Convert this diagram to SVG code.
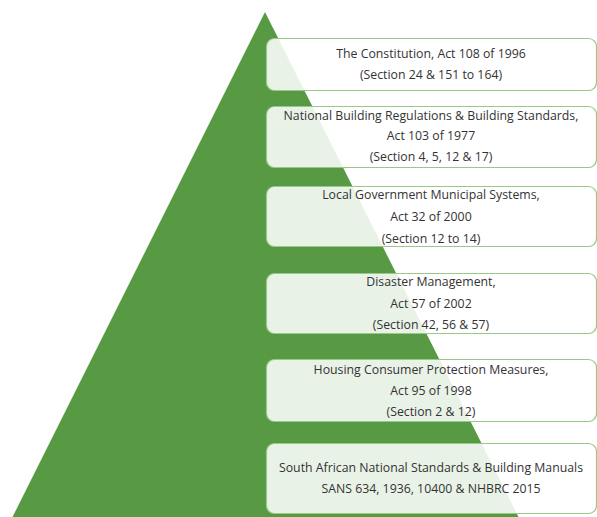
<svg xmlns="http://www.w3.org/2000/svg" width="597" height="517" viewBox="0 0 597 517">
  <style>
    .tier rect { fill: #ffffff; fill-opacity: 0.87; stroke: #9ac987; stroke-width: 1.2; }
    .tier text { font-family: "Open Sans", "Liberation Sans", sans-serif; font-size: 12.3px; fill: #333333; text-anchor: middle; }
  </style>
  <rect width="597" height="517" fill="#ffffff"/>
  <!-- pyramid backdrop -->
  <polygon id="pyramid" points="265,12 519,518 12,518" fill="#589a44"/>
  <g id="connectors"/>
  <g id="tier1" class="tier">
    <rect x="266.5" y="38.5" width="330" height="52" rx="8"/>
    <text x="431" y="58">The Constitution, Act 108 of 1996</text>
    <text x="431" y="79">(Section 24 &amp; 151 to 164)</text>
  </g>
  <g id="tier2" class="tier">
    <rect x="266.5" y="106.5" width="330" height="61" rx="8"/>
    <text x="431" y="119.5">National Building Regulations &amp; Building Standards,</text>
    <text x="431" y="140">Act 103 of 1977</text>
    <text x="431" y="161">(Section 4, 5, 12 &amp; 17)</text>
  </g>
  <g id="tier3" class="tier">
    <rect x="266.5" y="186.5" width="330" height="60" rx="8"/>
    <text x="431" y="198.5">Local Government Municipal Systems,</text>
    <text x="431" y="221">Act 32 of 2000</text>
    <text x="431" y="242.5">(Section 12 to 14)</text>
  </g>
  <g id="tier4" class="tier">
    <rect x="266.5" y="273.5" width="330" height="60" rx="8"/>
    <text x="431" y="285.5">Disaster Management,</text>
    <text x="431" y="307.5">Act 57 of 2002</text>
    <text x="431" y="328.5">(Section 42, 56 &amp; 57)</text>
  </g>
  <g id="tier5" class="tier">
    <rect x="266.5" y="359.5" width="330" height="62" rx="8"/>
    <text x="431" y="373.5">Housing Consumer Protection Measures,</text>
    <text x="431" y="395">Act 95 of 1998</text>
    <text x="431" y="416">(Section 2 &amp; 12)</text>
  </g>
  <g id="tier6" class="tier">
    <rect x="266.5" y="443.5" width="330" height="70" rx="8"/>
    <text x="431" y="471.5">South African National Standards &amp; Building Manuals</text>
    <text x="431" y="492.5">SANS 634, 1936, 10400 &amp; NHBRC 2015</text>
  </g>
</svg>
